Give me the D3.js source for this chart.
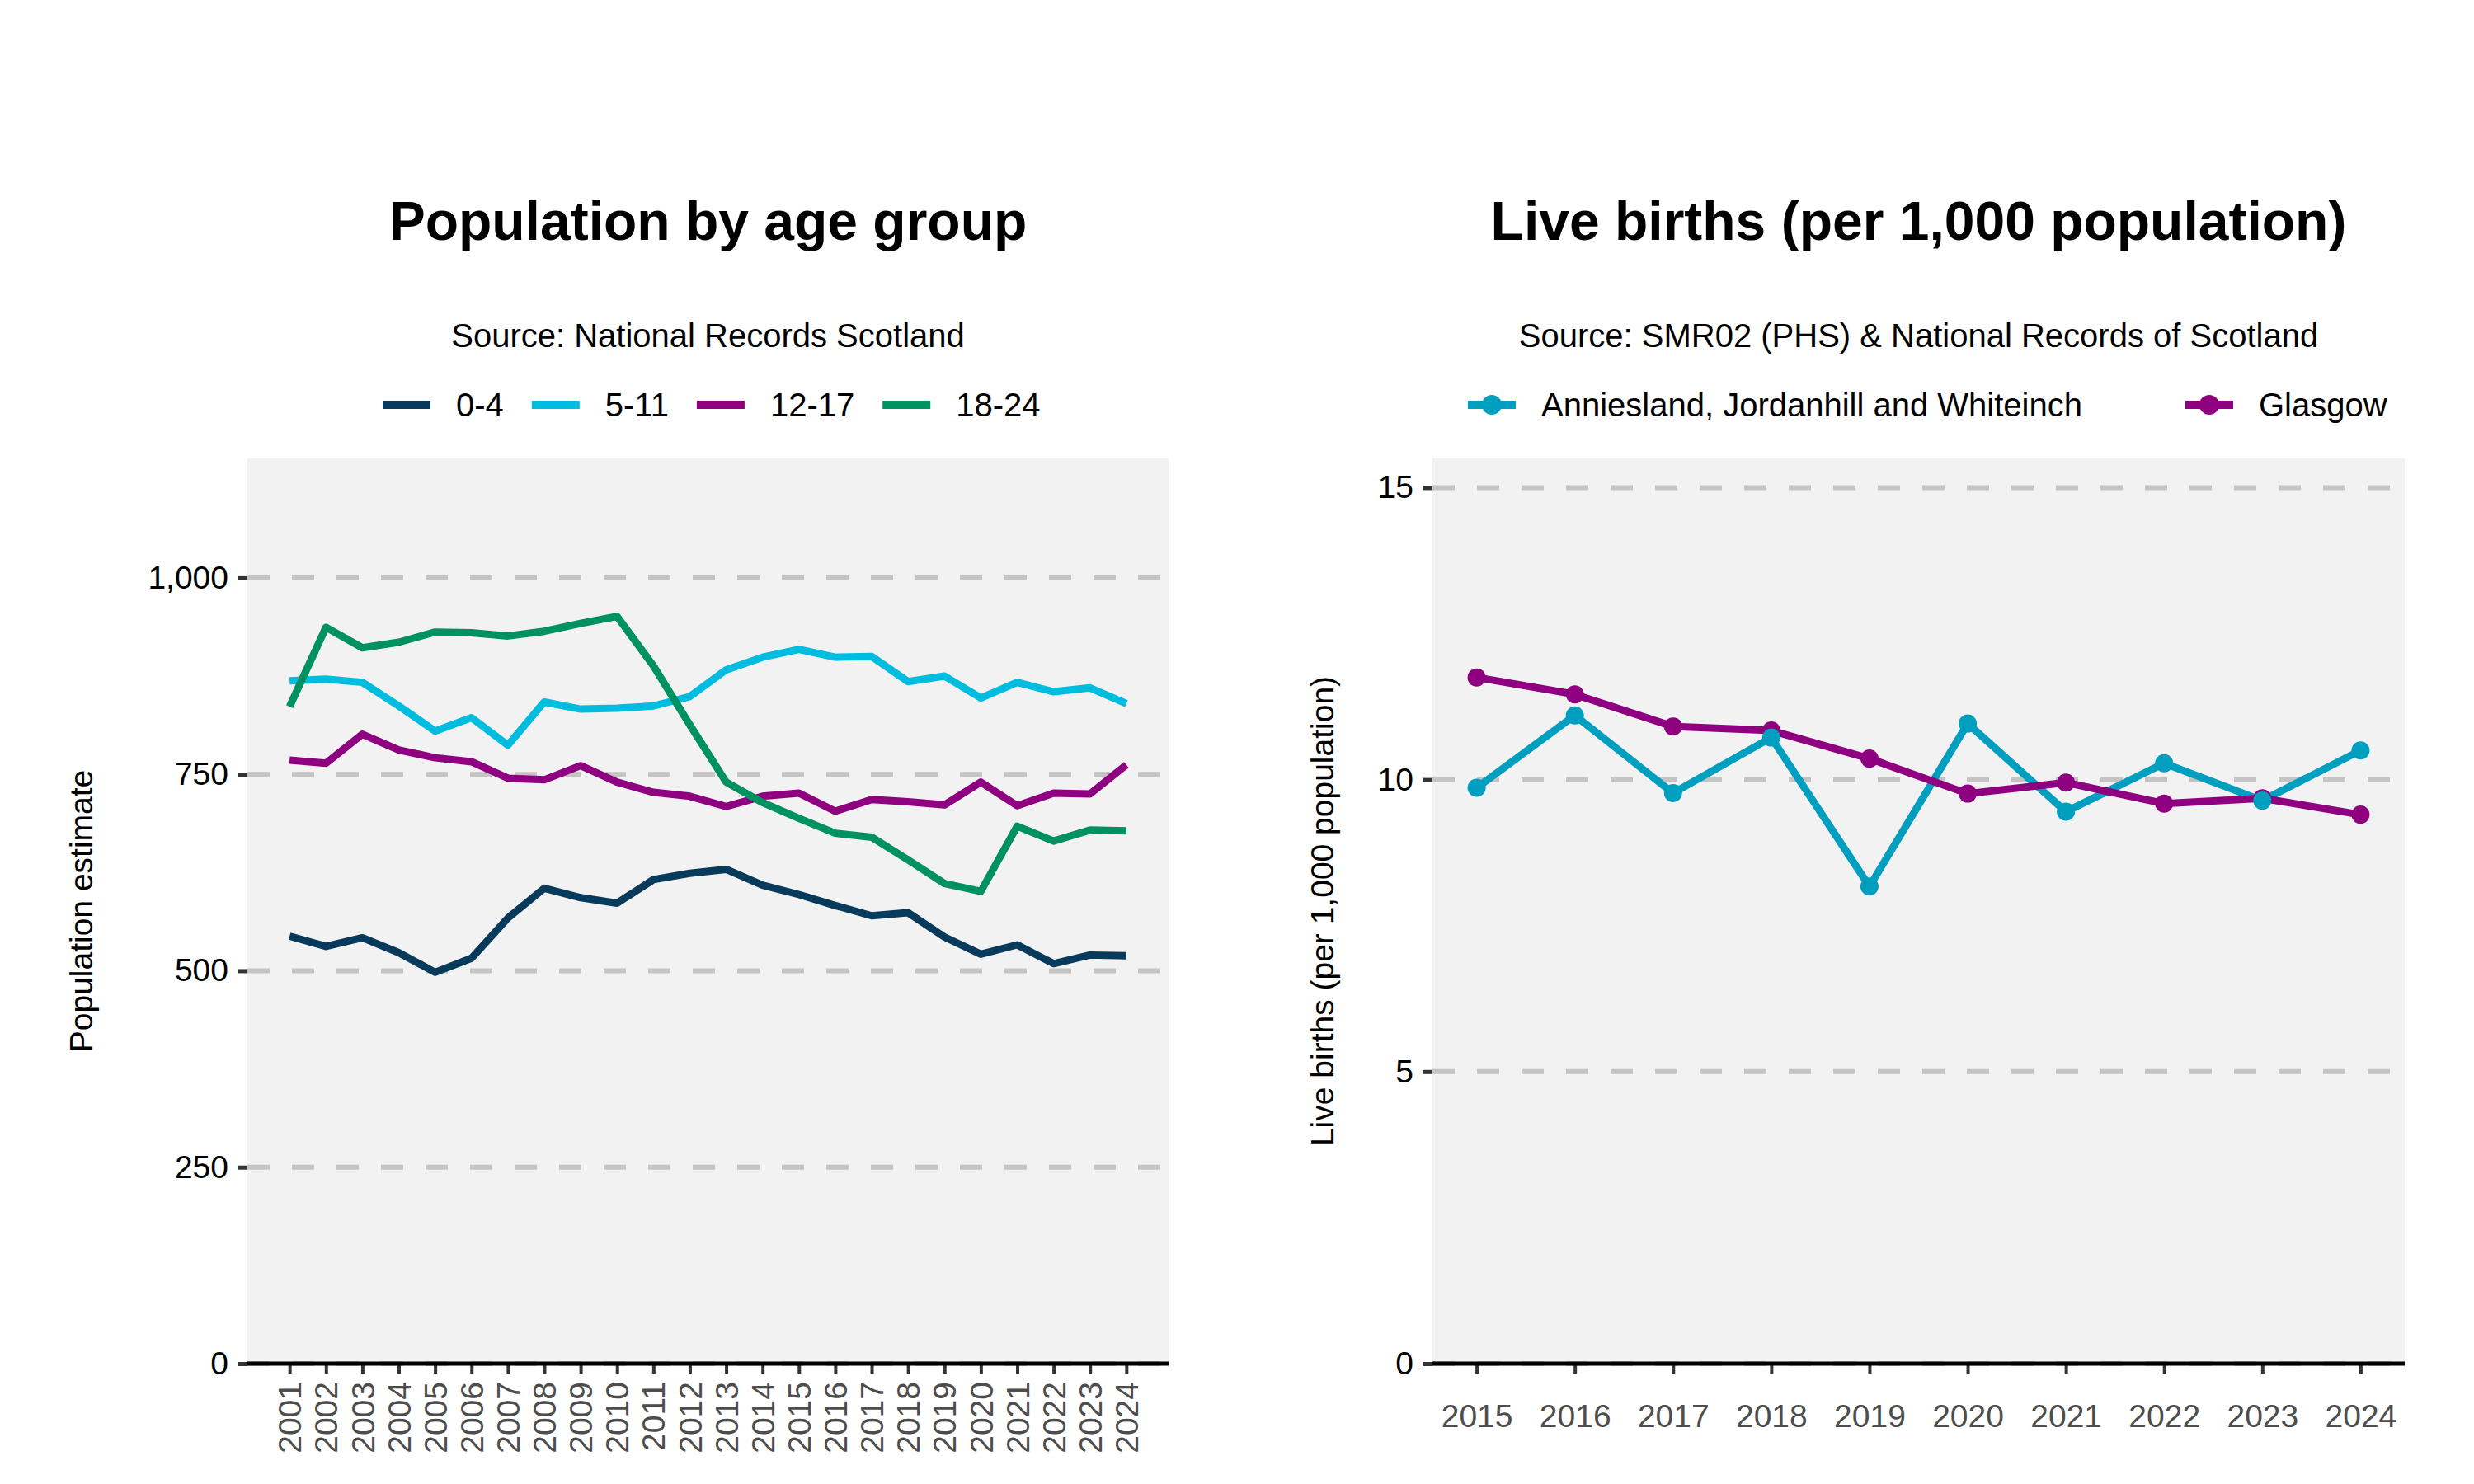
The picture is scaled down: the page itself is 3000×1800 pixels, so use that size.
<!DOCTYPE html>
<html>
<head>
<meta charset="utf-8">
<script src="https://cdn.jsdelivr.net/npm/d3@7"></script>
<style>
  body { margin: 0; background: #fff; }
  svg { display: block; }
  text { font-family: "Liberation Sans", Arial, Helvetica, sans-serif; }
</style>
</head>
<body>
<svg id="chart"></svg>
<script>
// ---- Data: population by age group ----
const popYears = ["2001", "2002", "2003", "2004", "2005", "2006", "2007", "2008", "2009", "2010", "2011", "2012",
                  "2013", "2014", "2015", "2016", "2017", "2018", "2019", "2020", "2021", "2022", "2023", "2024"];
const popGroups = ["0-4", "5-11", "12-17", "18-24"];
const pop0to4   = [544, 531, 542, 523, 498, 516, 567, 605, 593, 586, 616, 624, 629, 609, 597, 583, 570, 574, 543, 521, 533, 509, 520, 519];
const pop5to11  = [869, 871, 867, 837, 805, 822, 787, 842, 833, 834, 837, 849, 883, 899, 909, 899, 900, 868, 875, 847, 867, 855, 860, 840];
const pop12to17 = [768, 764, 801, 781, 771, 766, 745, 743, 761, 740, 727, 722, 709, 722, 726, 703, 718, 715, 711, 740, 710, 726, 725, 762];
const pop18to24 = [836, 937, 911, 918, 931, 930, 926, 932, 942, 951, 888, 813, 740, 714, 694, 675, 670, 641, 611, 601, 684, 665, 679, 678];
const popValues = [pop0to4, pop5to11, pop12to17, pop18to24];
const popTicks = [0, 250, 500, 750, 1000];

// ---- Data: live births per 1,000 ----
const birthYears = ["2015", "2016", "2017", "2018", "2019", "2020", "2021", "2022", "2023", "2024"];
const birthAreas = ["Anniesland, Jordanhill and Whiteinch", "Glasgow"];
const birthsAnniesland = [9.86, 11.10, 9.77, 10.72, 8.17, 10.96, 9.45, 10.28, 9.64, 10.50];
const birthsGlasgow    = [11.75, 11.46, 10.91, 10.84, 10.36, 9.76, 9.95, 9.59, 9.68, 9.40];
const birthValues = [birthsAnniesland, birthsGlasgow];
const birthTicks = [0, 5, 10, 15];

// ---- Styling ----
const popColors = ["#073a5b", "#00bde0", "#8e0080", "#009160"];
const birthColors = ["#009fc0", "#8e0080"];
const W = 3000, H = 1800;
const lineW = 9;
const gridColor = "#c4c4c4";
const tickColor = "#333333";
const textColor = "#000000";
const tickTextColor = "#4d4d4d";

const svg = d3.select("#chart").attr("width", W).attr("height", H);
svg.append("rect").attr("width", W).attr("height", H).attr("fill", "#fff");

// panel boxes
const leftBox  = { x0: 300,  x1: 1417, y0: 556, y1: 1654 };
const rightBox = { x0: 1737, x1: 2916, y0: 556, y1: 1654 };

function drawPanel(box, opts) {
    const g = svg.append("g");
    const x = d3.scalePoint().domain(opts.years).range([box.x0, box.x1]).padding(opts.xPad);
    const y = d3.scaleLinear().domain(opts.yDomain).range([box.y1, box.y0]);

    // background
    g.append("rect")
        .attr("x", box.x0).attr("y", box.y0)
        .attr("width", box.x1 - box.x0).attr("height", box.y1 - box.y0)
        .attr("fill", "#f2f2f2");

    // dashed gridlines
    g.selectAll(".grid").data(opts.ticks).enter()
        .append("line")
        .attr("class", "grid")
        .attr("x1", box.x0).attr("x2", box.x1)
        .attr("y1", d => y(d)).attr("y2", d => y(d))
        .attr("stroke", gridColor)
        .attr("stroke-width", 6)
        .attr("stroke-dasharray", "27,27");

    // y axis
    const yAxis = g.append("g")
        .attr("transform", `translate(${box.x0},0)`)
        .call(d3.axisLeft(y).tickValues(opts.ticks).tickSize(12).tickPadding(11).tickFormat(d3.format(",")));
    yAxis.select(".domain").remove();
    yAxis.attr("font-family", null).attr("font-size", null);
    yAxis.selectAll(".tick line").attr("stroke", tickColor).attr("stroke-width", 5);
    yAxis.selectAll(".tick text")
        .style("font-size", "39px")
        .attr("fill", textColor);

    // x axis
    const xAxis = g.append("g")
        .attr("transform", `translate(0,${box.y1})`)
        .call(d3.axisBottom(x).tickSize(12).tickPadding(opts.xTickPad));
    xAxis.select(".domain").remove();
    xAxis.attr("font-family", null).attr("font-size", null);
    xAxis.selectAll(".tick line").attr("stroke", tickColor).attr("stroke-width", 4);
    const xt = xAxis.selectAll(".tick text")
        .style("font-size", "39px")
        .attr("fill", tickTextColor);
    if (opts.rotateX) {
        xt.attr("transform", "rotate(-90)")
            .attr("x", -22)
            .attr("y", 0)
            .attr("dy", "0.35em")
            .style("text-anchor", "end");
    }
    g.append("line")
        .attr("x1", box.x0).attr("x2", box.x1)
        .attr("y1", box.y1).attr("y2", box.y1)
        .attr("stroke", "#000").attr("stroke-width", 5);

    // lines
    const line = d3.line()
        .x((d, i) => x(opts.years[i]))
        .y(d => y(d));
    opts.values.forEach((vals, k) => {
        g.append("path")
            .datum(vals)
            .attr("d", line)
            .attr("fill", "none")
            .attr("stroke", opts.colors[k])
            .attr("stroke-width", lineW)
            .attr("stroke-linejoin", "round")
            .attr("stroke-linecap", "butt");
    });

    // points (live births only)
    if (opts.points) {
        opts.pointOrder.forEach(k => {
            g.selectAll(".pt" + k).data(opts.values[k]).enter()
                .append("circle")
                .attr("cx", (d, i) => x(opts.years[i]))
                .attr("cy", d => y(d))
                .attr("r", 11)
                .attr("fill", opts.colors[k]);
        });
    }

    const cx = (box.x0 + box.x1) / 2;

    // title and subtitle
    svg.append("text")
        .attr("x", cx).attr("y", 291)
        .attr("text-anchor", "middle")
        .style("font-size", "66px").style("font-weight", "bold")
        .attr("fill", textColor)
        .text(opts.title);
    svg.append("text")
        .attr("x", cx).attr("y", 421)
        .attr("text-anchor", "middle")
        .style("font-size", "40px")
        .attr("fill", textColor)
        .text(opts.subtitle);

    // y axis title
    svg.append("text")
        .attr("transform", `translate(${opts.yTitleX},${(box.y0 + box.y1) / 2}) rotate(-90)`)
        .attr("text-anchor", "middle")
        .attr("dy", "0.35em")
        .style("font-size", "39px")
        .attr("fill", textColor)
        .text(opts.yTitle);

    // legend
    const leg = svg.append("g");
    let lx = opts.legendX;
    const ly = 491;
    opts.labels.forEach((lab, k) => {
        leg.append("line")
            .attr("x1", lx).attr("x2", lx + 58)
            .attr("y1", ly).attr("y2", ly)
            .attr("stroke", opts.colors[k])
            .attr("stroke-width", 10);
        if (opts.points) {
            leg.append("circle")
                .attr("cx", lx + 29).attr("cy", ly).attr("r", 12)
                .attr("fill", opts.colors[k]);
        }
        const t = leg.append("text")
            .attr("x", lx + 58 + 31).attr("y", ly)
            .attr("dy", "0.35em")
            .style("font-size", "40px")
            .attr("fill", textColor)
            .text(lab);
        lx += 58 + 31 + t.node().getComputedTextLength() + opts.legendGap;
    });
}

drawPanel(leftBox, {
    years: popYears, values: popValues, colors: popColors, labels: popGroups,
    yDomain: [0, 1152], ticks: popTicks, xPad: 1.16, xTickPad: 10, rotateX: true,
    points: false,
    title: "Population by age group",
    subtitle: "Source: National Records Scotland",
    yTitle: "Population estimate", yTitleX: 98,
    legendX: 464, legendGap: 34
});

drawPanel(rightBox, {
    years: birthYears, values: birthValues, colors: birthColors, labels: birthAreas,
    yDomain: [0, 15.5], ticks: birthTicks, xPad: 0.45, xTickPad: 37, rotateX: false,
    points: true, pointOrder: [1, 0],
    title: "Live births (per 1,000 population)",
    subtitle: "Source: SMR02 (PHS) & National Records of Scotland",
    yTitle: "Live births (per 1,000 population)", yTitleX: 1603,
    legendX: 1780, legendGap: 125
});
</script>
</body>
</html>
